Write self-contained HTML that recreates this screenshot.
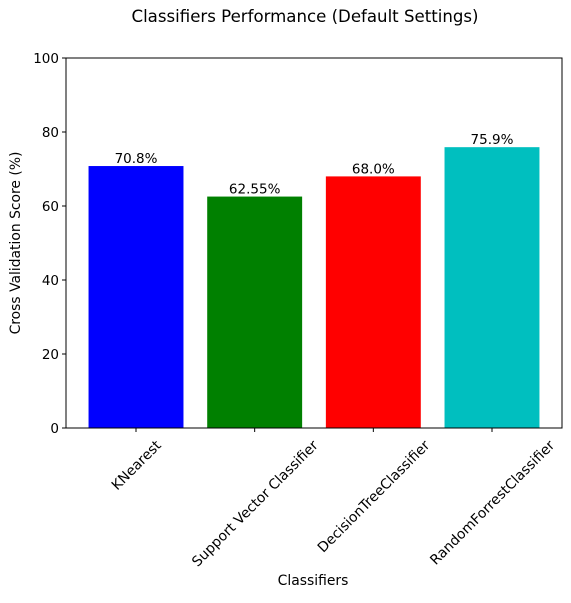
<!DOCTYPE html>
<html><head><meta charset="utf-8"><style>
body{margin:0;background:#fff;}
svg{font-family:"DejaVu Sans","Liberation Sans",sans-serif;}
</style></head><body>
<svg id="chart" width="571" height="598" viewBox="0 0 571 598" xmlns="http://www.w3.org/2000/svg">
<text x="305" y="22" text-anchor="middle" font-size="16.6">Classifiers Performance (Default Settings)</text>
<g id="plot"></g>
<rect x="66" y="58" width="496" height="370" fill="none" stroke="#000" stroke-width="1"/>
<text transform="translate(20,243) rotate(-90)" text-anchor="middle" font-size="13.9">Cross Validation Score (%)</text>
<text x="313" y="585" text-anchor="middle" font-size="13.9">Classifiers</text>
</svg>
<script>
const categories=["KNearest","Support Vector Classifier","DecisionTreeClassifier","RandomForrestClassifier"];
const scores=[70.8,62.55,68.0,75.9];
const valueLabels=["70.8%","62.55%","68.0%","75.9%"];
const colors=["#0000ff","#008000","#ff0000","#00bfbf"];
const yTicks=[0,20,40,60,80,100];
const L=66,R=562,T=58,B=428;
const xMin=-0.59,xMax=3.59;
const x=v=>L+(v-xMin)/(xMax-xMin)*(R-L);
const y=v=>B-(v/100)*(B-T);
const ns="http://www.w3.org/2000/svg";
const g=document.getElementById('plot');
function mk(t,a){const e=document.createElementNS(ns,t);for(const k in a)e.setAttribute(k,a[k]);g.appendChild(e);return e;}
categories.forEach((c,i)=>{
  const bw=x(0.4)-x(-0.4);
  const b=mk('rect',{x:x(i-0.4),y:y(scores[i]),width:bw,height:B-y(scores[i]),fill:colors[i]});
  
  
  const vl=mk('text',{x:x(i),y:y(scores[i])-3,'text-anchor':'middle','font-size':'13.5'});
  vl.textContent=valueLabels[i];
  
  
  const tk=mk('line',{x1:x(i),x2:x(i),y1:B,y2:B+4,stroke:'#000'});
  
  
  const tl=mk('text',{'text-anchor':'middle','font-size':'13.9'});
  tl.textContent=c;
  
  
  const len=tl.getComputedTextLength();
  const half=(len+13)*Math.SQRT1_2/2;
  const cy=B+10+half;
  tl.setAttribute('transform',`translate(${x(i)},${cy}) rotate(-45) translate(0,5)`);
});
yTicks.forEach(v=>{
  const tk=mk('line',{x1:L-4,x2:L,y1:y(v),y2:y(v),stroke:'#000'});
  
  
  const tl=mk('text',{x:L-7,y:y(v)+4.8,'text-anchor':'end','font-size':'13.5'});
  tl.textContent=v;
  
  
});
</script>
</body></html>
